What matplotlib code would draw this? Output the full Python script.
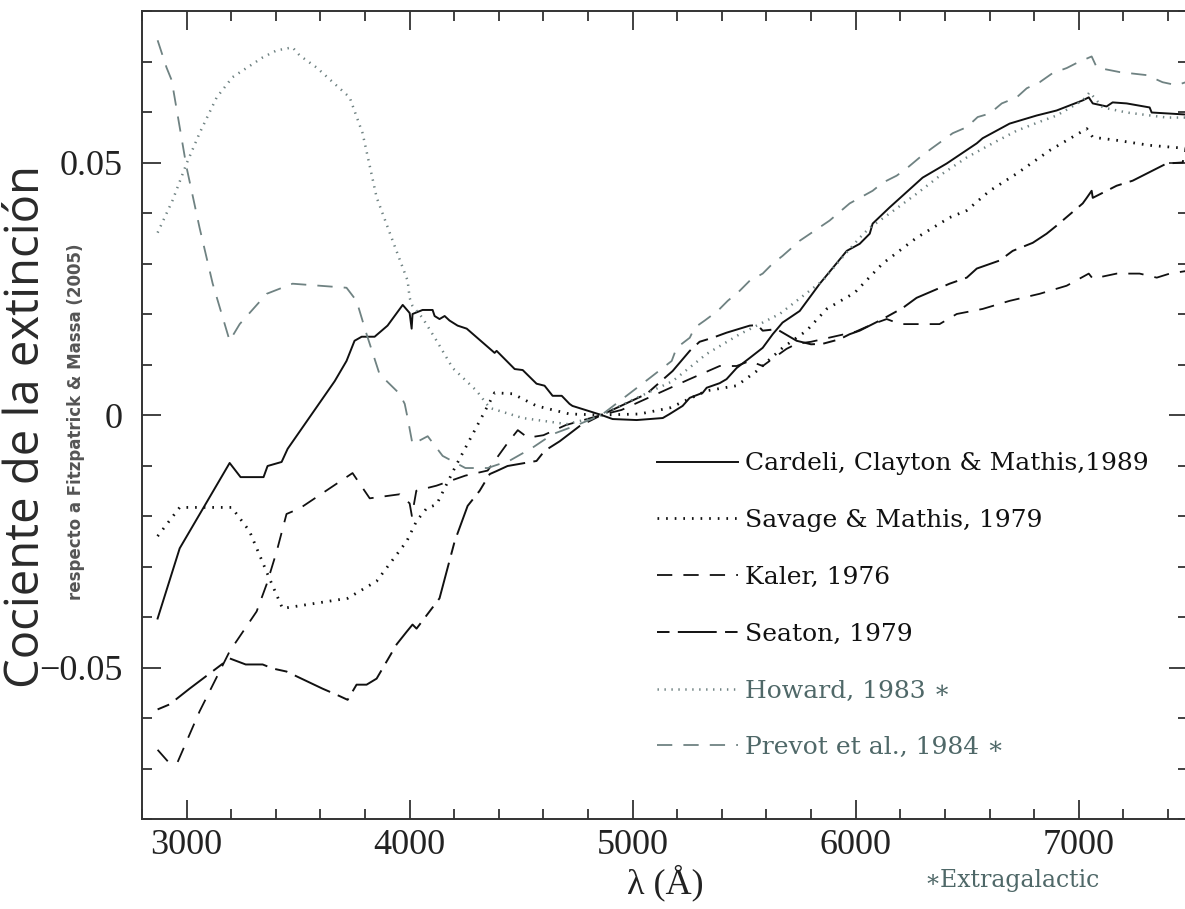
import matplotlib
matplotlib.use("Agg")
import matplotlib.pyplot as plt
from matplotlib.ticker import MultipleLocator

# wavelength (A) and extinction ratio for each law
lam_ccm = [2870, 2969, 3193, 3242, 3345, 3363, 3426, 3453, 3664, 3717, 3753, 3785, 3843, 3901, 3969, 4000,
           4009, 4013, 4058, 4103, 4112, 4134, 4157, 4179, 4215, 4256, 4381, 4390, 4471, 4507, 4569, 4605,
           4641, 4682, 4717, 4730, 4860, 4910, 5018, 5135, 5166, 5224, 5256, 5314, 5332, 5390, 5421, 5466,
           5525, 5583, 5628, 5672, 5749, 5839, 5960, 6018, 6063, 6076, 6152, 6300, 6408, 6543, 6569, 6690,
           6811, 6901, 7018, 7045, 7063, 7125, 7152, 7215, 7318, 7327, 7480]
val_ccm = [-0.0403, -0.0264, -0.0095, -0.0123, -0.0123, -0.0101, -0.0093, -0.0067, 0.0067, 0.0107, 0.0147,
           0.0155, 0.0155, 0.0177, 0.0218, 0.0202, 0.0171, 0.0200, 0.0208, 0.0208, 0.0196, 0.0190, 0.0196,
           0.0187, 0.0177, 0.0171, 0.0123, 0.0127, 0.0091, 0.0089, 0.0062, 0.0058, 0.0038, 0.0038, 0.0022,
           0.0018, 0.0, -0.0008, -0.0010, -0.0006, 0.0002, 0.0018, 0.0034, 0.0044, 0.0054, 0.0063, 0.0071,
           0.0093, 0.0113, 0.0133, 0.0160, 0.0183, 0.0206, 0.0260, 0.0325, 0.0339, 0.0359, 0.0379, 0.0411,
           0.0470, 0.0498, 0.0538, 0.0548, 0.0577, 0.0593, 0.0603, 0.0623, 0.0629, 0.0617, 0.0611, 0.0619,
           0.0617, 0.0609, 0.0599, 0.0595]

lam_sm = [2870, 2969, 3202, 3282, 3363, 3430, 3722, 3852, 3987, 4031, 4076, 4121, 4202, 4350, 4381, 4462,
          4569, 4717, 4860, 5031, 5166, 5332, 5466, 5556, 5672, 5780, 5870, 5995, 6121, 6273, 6421, 6498,
          6601, 6722, 6870, 7036, 7063, 7170, 7318, 7480]
val_sm = [-0.0240, -0.0183, -0.0183, -0.0230, -0.0315, -0.0383, -0.0363, -0.0329, -0.0250, -0.0210,
          -0.0185, -0.0177, -0.0105, 0.0018, 0.0044, 0.0042, 0.0018, 0.0002, 0.0, 0.0002, 0.0014, 0.0048,
          0.0058, 0.0087, 0.0133, 0.0167, 0.0210, 0.0242, 0.0300, 0.0351, 0.0391, 0.0405, 0.0444, 0.0478,
          0.0524, 0.0567, 0.0550, 0.0544, 0.0534, 0.0528]

lam_k = [2870, 2924, 2960, 3058, 3193, 3314, 3359, 3404, 3448, 3507, 3744, 3821, 3955, 4000, 4010, 4030,
         4120, 4250, 4350, 4440, 4485, 4530, 4600, 4700, 4860, 4950, 5050, 5150, 5250, 5390, 5466, 5525,
         5583, 5614, 5690, 5735, 5800, 5900, 6000, 6076, 6139, 6200, 6376, 6453, 6569, 6690, 6825, 6946,
         7045, 7063, 7170, 7273, 7350, 7408, 7480]
val_k = [-0.0663, -0.0690, -0.0687, -0.0587, -0.0468, -0.0389, -0.0335, -0.0270, -0.0196, -0.0185,
         -0.0115, -0.0165, -0.0157, -0.0175, -0.0200, -0.0150, -0.0140, -0.0120, -0.0110, -0.0055,
         -0.0030, -0.0045, -0.0040, -0.0020, 0.0, 0.0010, 0.0030, 0.0050, 0.0070, 0.0097, 0.0097, 0.0107,
         0.0097, 0.0107, 0.0131, 0.0141, 0.0145, 0.0155, 0.0165, 0.0180, 0.0190, 0.0180, 0.0180, 0.0200,
         0.0210, 0.0226, 0.0240, 0.0256, 0.0280, 0.0270, 0.0280, 0.0280, 0.0272, 0.0280, 0.0285]

lam_s = [2870, 2924, 3013, 3193, 3265, 3341, 3386, 3448, 3610, 3673, 3722, 3762, 3807, 3852, 3942, 3987,
         4013, 4031, 4134, 4202, 4260, 4314, 4359, 4390, 4439, 4569, 4605, 4673, 4762, 4860, 5063, 5179,
         5256, 5300, 5359, 5421, 5525, 5560, 5583, 5646, 5735, 5800, 5852, 5928, 5973, 6018, 6076, 6121,
         6211, 6273, 6421, 6498, 6543, 6646, 6704, 6794, 6856, 6901, 7018, 7036, 7058, 7063, 7170, 7242,
         7394, 7466, 7480]
val_s = [-0.0583, -0.0573, -0.0542, -0.0482, -0.0494, -0.0494, -0.0502, -0.0508, -0.0542, -0.0554,
         -0.0564, -0.0534, -0.0534, -0.0522, -0.0454, -0.0429, -0.0415, -0.0423, -0.0363, -0.0250,
         -0.0180, -0.0150, -0.0117, -0.0111, -0.0101, -0.0091, -0.0071, -0.0052, -0.0022, 0.0, 0.0042,
         0.0087, 0.0127, 0.0145, 0.0153, 0.0163, 0.0177, 0.0178, 0.0167, 0.0170, 0.0147, 0.0140, 0.0141,
         0.0150, 0.0160, 0.0167, 0.0180, 0.0190, 0.0212, 0.0232, 0.0260, 0.0272, 0.0290, 0.0306, 0.0325,
         0.0341, 0.0359, 0.0375, 0.0419, 0.0430, 0.0444, 0.0430, 0.0454, 0.0464, 0.0498, 0.0500, 0.0528]

lam_h = [2870, 2937, 3000, 3058, 3135, 3206, 3341, 3404, 3475, 3507, 3583, 3731, 3789, 3852, 3924, 3991,
         4000, 4013, 4058, 4121, 4193, 4300, 4359, 4507, 4704, 4820, 4860, 5000, 5179, 5332, 5480, 5659,
         5852, 5928, 6018, 6063, 6152, 6273, 6390, 6498, 6614, 6722, 6839, 6901, 7018, 7049, 7108, 7215,
         7394, 7480]
val_h = [0.0361, 0.0425, 0.0498, 0.0558, 0.0629, 0.0669, 0.0708, 0.0722, 0.0728, 0.0712, 0.0688, 0.0629,
         0.0558, 0.0431, 0.0345, 0.0266, 0.0232, 0.0216, 0.0192, 0.0147, 0.0093, 0.0048, 0.0014, -0.0006,
         -0.0018, -0.0006, 0.0, 0.0030, 0.0067, 0.0121, 0.0160, 0.0200, 0.0266, 0.0306, 0.0351, 0.0371,
         0.0399, 0.0438, 0.0478, 0.0510, 0.0538, 0.0563, 0.0583, 0.0593, 0.0623, 0.0639, 0.0609, 0.0599,
         0.0589, 0.0589]

lam_p = [2870, 2910, 2933, 3000, 3058, 3117, 3193, 3238, 3359, 3475, 3717, 3762, 3807, 3865, 3955, 3978,
         3991, 4013, 4081, 4148, 4250, 4350, 4450, 4550, 4641, 4750, 4860, 5076, 5175, 5197, 5256, 5278,
         5323, 5381, 5426, 5480, 5525, 5583, 5628, 5672, 5749, 5883, 5973, 6076, 6121, 6184, 6233, 6287,
         6341, 6435, 6498, 6547, 6601, 6655, 6722, 6767, 6825, 6883, 6946, 6995, 7058, 7081, 7184, 7305,
         7376, 7439, 7480]
val_p = [0.0742, 0.0688, 0.0663, 0.0490, 0.0371, 0.0260, 0.0147, 0.0180, 0.0240, 0.0260, 0.0252, 0.0226,
         0.0160, 0.0081, 0.0042, 0.0022, -0.0006, -0.0058, -0.0042, -0.0081, -0.0105, -0.0105, -0.0090,
         -0.0065, -0.0038, -0.0020, 0.0, 0.0073, 0.0107, 0.0133, 0.0153, 0.0173, 0.0187, 0.0206, 0.0226,
         0.0246, 0.0266, 0.0280, 0.0300, 0.0315, 0.0345, 0.0385, 0.0419, 0.0444, 0.0460, 0.0474, 0.0490,
         0.0510, 0.0528, 0.0558, 0.0570, 0.0590, 0.0597, 0.0617, 0.0629, 0.0647, 0.0659, 0.0677, 0.0687,
         0.0698, 0.0710, 0.0688, 0.0679, 0.0673, 0.0659, 0.0653, 0.0659]

labels = ["Cardeli, Clayton & Mathis,1989", "Savage & Mathis, 1979", "Kaler, 1976",
          "Seaton, 1979", "Howard, 1983 \u2217", "Prevot et al., 1984 \u2217"]
yticks = [-0.05, 0, 0.05]
ytick_labels = ["\u22120.05", "0", "0.05"]

plt.rcParams['lines.scale_dashes'] = False
black = "#111111"
grey = "#6f8282"
text_grey = "#4f6868"

fig = plt.figure(figsize=(11.85, 9.09), dpi=100)
ax = fig.add_axes([142 / 1185, 90 / 909, 1046 / 1185, 808 / 909])

ax.plot(lam_ccm, val_ccm, color=black, lw=1.4, ls='-', label=labels[0])
ax.plot(lam_sm, val_sm, color=black, lw=2.0, ls=(0, (1.2, 5.0)), label=labels[1])
ax.plot(lam_k, val_k, color=black, lw=1.3, ls=(0, (11, 8)), label=labels[2])
ax.plot(lam_s, val_s, color=black, lw=1.4, ls=(0, (9, 6, 28, 6)), label=labels[3])
ax.plot(lam_h, val_h, color=grey, lw=1.8, ls=(0, (1.0, 4.0)), label=labels[4])
ax.plot(lam_p, val_p, color=grey, lw=1.3, ls=(0, (11, 8)), label=labels[5])

ax.set_xlim(2800, 7490)
ax.set_ylim(-0.08, 0.08)

ax.xaxis.set_major_locator(MultipleLocator(1000))
ax.xaxis.set_minor_locator(MultipleLocator(200))
ax.set_yticks(yticks)
ax.set_yticklabels(ytick_labels)
ax.yaxis.set_minor_locator(MultipleLocator(0.01))
ax.tick_params(which='both', direction='in', top=True, right=True, colors='#333333', width=1.3)
ax.tick_params(which='major', length=14)
ax.tick_params(which='minor', length=7)
ax.tick_params(axis='x', which='major', pad=7, labelsize=26, labelcolor='#222222')
ax.tick_params(axis='y', which='major', pad=14, labelsize=26, labelcolor='#222222')
for lab in ax.get_xticklabels() + ax.get_yticklabels():
    lab.set_family('Liberation Serif')
for sp in ax.spines.values():
    sp.set_linewidth(1.4)
    sp.set_color('#333333')

ax.set_xlabel("\u03bb (\u00c5)", fontsize=26, family='Liberation Serif', color='#222222', labelpad=2)

leg = ax.legend(loc='upper left', bbox_to_anchor=(0.483, 0.466), frameon=False,
                prop={'family': 'DejaVu Serif', 'size': 18}, handlelength=3.25,
                handletextpad=0.28, labelspacing=1.35, borderaxespad=0)
for i, t in enumerate(leg.get_texts()):
    t.set_color(text_grey if i >= 4 else black)

fig.text(26 / 1185, 1 - 426 / 909, "Cociente de la extinci\u00f3n", rotation=90, ha='center', va='center',
         fontsize=34, family='Open Sans', color='#2a2a2a')
fig.text(76 / 1185, 1 - 422 / 909, "respecto a Fitzpatrick & Massa (2005)", rotation=90, ha='center',
         va='center', fontsize=12, family=['Liberation Sans Narrow', 'DejaVu Sans'], weight='bold',
         color='#555555')
fig.text(1012 / 1185, 1 - 881 / 909, "\u2217Extragalactic", ha='center', va='center', fontsize=17,
         family='DejaVu Serif', color=text_grey)

fig.savefig("out.png", dpi=100)
